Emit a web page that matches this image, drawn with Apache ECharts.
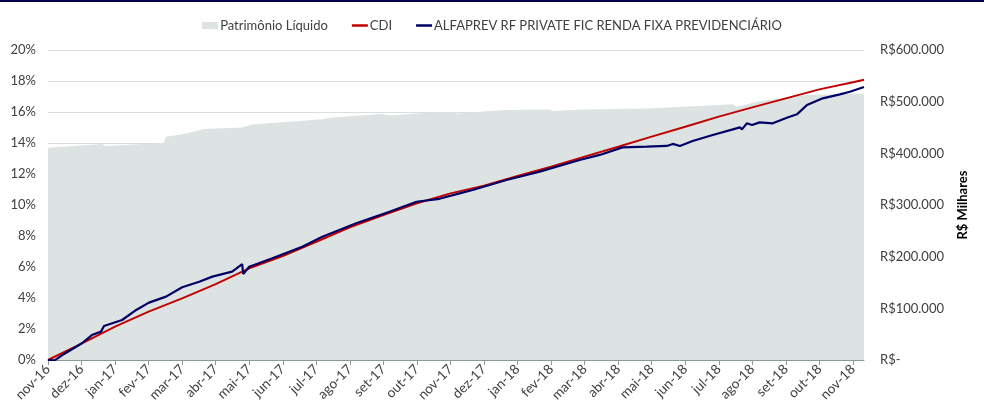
<!DOCTYPE html>
<html>
<head>
<meta charset="utf-8">
<script src="https://cdn.jsdelivr.net/npm/echarts@6/dist/echarts.min.js"></script>
<style>
  html, body { margin: 0; padding: 0; background: #fff; }
  #chart { width: 984px; height: 407px; }
</style>
</head>
<body>
<div id="chart"></div>
<script>
// month labels, one per month from nov-16 to nov-18 (x = month index)
const monthLabels = ['nov-16', 'dez-16', 'jan-17', 'fev-17', 'mar-17', 'abr-17', 'mai-17', 'jun-17',
  'jul-17', 'ago-17', 'set-17', 'out-17', 'nov-17', 'dez-17', 'jan-18', 'fev-18', 'mar-18', 'abr-18',
  'mai-18', 'jun-18', 'jul-18', 'ago-18', 'set-18', 'out-18', 'nov-18'];
const lastX = 24.33;

// Patrimônio Líquido (R$ milhares), right axis
const plX = [0, 1.61, 1.70, 3.45, 3.52, 4.0, 4.66, 5.79, 6.09, 8.18, 8.39, 9.97, 10.18, 11.46, 11.97, 12.21,
  13.61, 14.96, 15.04, 15.94, 17.94, 18.93, 20.42, 20.54, 21.22, 22.63, 24.33];
const plVal = [411000, 418000, 414000, 420000, 432000, 437000, 447000, 450000, 456000, 466000, 469000, 476000,
  473000, 479000, 479000, 477000, 484000, 485000, 482000, 485000, 487000, 490000, 495000, 490000, 501000,
  513000, 516000];

// CDI (%), monthly
const cdiX = [0, 1, 2, 3, 4, 5, 6, 7, 8, 9, 10, 11, 12, 13, 14, 15, 16, 17, 18, 19, 20, 21, 22, 23, 24, 24.33];
const cdiVal = [0, 1.05, 2.15, 3.12, 3.98, 4.90, 5.91, 6.71, 7.63, 8.56, 9.35, 10.11, 10.75, 11.25, 11.87,
  12.47, 13.12, 13.76, 14.41, 15.05, 15.70, 16.30, 16.88, 17.46, 17.92, 18.08];

// ALFAPREV RF PRIVATE FIC RENDA FIXA PREVIDENCIÁRIO (%)
const fundX = [0, 0.20, 0.48, 1.01, 1.31, 1.58, 1.67, 2.21, 2.63, 3.01, 3.52, 4.0, 4.51, 4.90, 5.49, 5.79, 5.82,
  6.0, 6.69, 7.58, 8.18, 9.19, 10.18, 10.99, 11.67, 12.27, 12.66, 13.67, 14.66, 15.85, 16.45, 17.13, 17.85,
  18.45, 18.63, 18.84, 19.22, 19.82, 20.42, 20.63, 20.69, 20.84, 20.99, 21.22, 21.61, 22.03, 22.33, 22.63,
  23.10, 23.61, 23.91, 24.33];
const fundVal = [0, -0.02, 0.39, 1.08, 1.61, 1.83, 2.19, 2.58, 3.23, 3.70, 4.09, 4.69, 5.05, 5.38, 5.70, 6.19,
  5.55, 6.02, 6.56, 7.31, 7.95, 8.82, 9.57, 10.21, 10.40, 10.75, 10.97, 11.61, 12.15, 12.90, 13.23, 13.72,
  13.76, 13.81, 13.94, 13.81, 14.13, 14.52, 14.88, 15.01, 14.88, 15.27, 15.16, 15.33, 15.27, 15.63, 15.85,
  16.45, 16.88, 17.14, 17.31, 17.61];

const zip = (xs, ys) => xs.map((x, i) => [x, ys[i]]);
const labelFont = 'Lato, "Open Sans", sans-serif';
const lineIcon = 'path://M0,0h16v2.5h-16z';

let chart = echarts.init(document.getElementById('chart'), null, { renderer: 'canvas' });
let option = {
  animation: false,
  backgroundColor: '#fff',
  graphic: [
    { type: 'rect', left: 0, top: 0, shape: { width: 984, height: 2 }, style: { fill: '#00004d' } }
  ],
  legend: {
    top: 14,
    left: 'center',
    itemWidth: 16,
    itemHeight: 7,
    itemGap: 24,
    textStyle: { fontFamily: labelFont, fontSize: 13, color: '#404040', padding: [0, 0, 0, -3] },
    data: [
      { name: 'Patrimônio Líquido', icon: 'rect' },
      { name: 'CDI', icon: lineIcon },
      { name: 'ALFAPREV RF PRIVATE FIC RENDA FIXA PREVIDENCIÁRIO', icon: lineIcon }
    ]
  },
  grid: { left: 48, right: 120, top: 50, bottom: 47 },
  xAxis: {
    type: 'value',
    min: 0,
    max: lastX,
    interval: 1,
    axisLine: { lineStyle: { color: '#8a9a9a', width: 1 } },
    axisTick: { show: true, length: 5, lineStyle: { color: '#8a9a9a' } },
    splitLine: { show: false },
    axisLabel: {
      rotate: 45,
      margin: 7,
      fontFamily: labelFont,
      fontSize: 13.5,
      color: '#404040',
      showMaxLabel: false,
      formatter: v => (Math.abs(v - Math.round(v)) < 1e-6 ? (monthLabels[Math.round(v)] || '') : '')
    }
  },
  yAxis: [
    {
      type: 'value',
      min: 0,
      max: 20,
      interval: 2,
      axisLine: { show: false },
      axisTick: { show: false },
      splitLine: { lineStyle: { color: '#d9dede', width: 1 } },
      axisLabel: {
        margin: 12,
        fontFamily: labelFont,
        fontSize: 13,
        color: '#404040',
        formatter: v => v + '%'
      }
    },
    {
      type: 'value',
      min: 0,
      max: 600000,
      interval: 100000,
      position: 'right',
      name: 'R$ Milhares',
      nameLocation: 'middle',
      nameRotate: 90,
      nameGap: 92,
      nameTextStyle: { fontFamily: labelFont, fontSize: 13, fontWeight: 'bold', color: '#000' },
      axisLine: { show: false },
      axisTick: { show: false },
      splitLine: { show: false },
      axisLabel: {
        margin: 16,
        fontFamily: labelFont,
        fontSize: 13,
        color: '#404040',
        formatter: v => v === 0 ? 'R$-' : 'R$' + String(v).replace(/\B(?=(\d{3})+(?!\d))/g, '.')
      }
    }
  ],
  series: [
    {
      name: 'Patrimônio Líquido',
      type: 'line',
      yAxisIndex: 1,
      data: zip(plX, plVal),
      showSymbol: false,
      symbol: 'none',
      itemStyle: { color: '#dce3e2' },
      lineStyle: { width: 0, color: '#dce3e2' },
      areaStyle: { color: '#dce3e2', opacity: 1 },
      z: 1
    },
    {
      name: 'CDI',
      type: 'line',
      data: zip(cdiX, cdiVal),
      showSymbol: false,
      symbol: 'none',
      itemStyle: { color: '#c00000' },
      lineStyle: { width: 2, color: '#c00000' },
      z: 3
    },
    {
      name: 'ALFAPREV RF PRIVATE FIC RENDA FIXA PREVIDENCIÁRIO',
      type: 'line',
      data: zip(fundX, fundVal),
      showSymbol: false,
      symbol: 'none',
      itemStyle: { color: '#000066' },
      lineStyle: { width: 2.2, color: '#000066' },
      z: 4
    }
  ]
};
chart.setOption(option);
</script>
</body>
</html>
